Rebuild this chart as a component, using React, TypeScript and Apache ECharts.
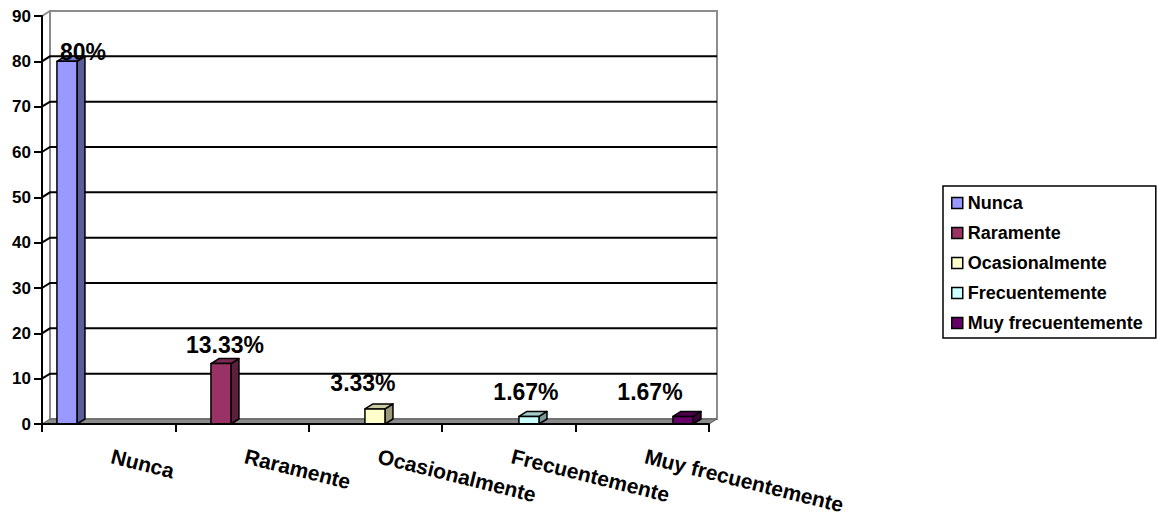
import React, { useEffect, useRef } from 'react';
import * as echarts from 'echarts';

const categories = ['Nunca', 'Raramente', 'Ocasionalmente', 'Frecuentemente', 'Muy frecuentemente'];
const values = [80, 13.33, 3.33, 1.67, 1.67];
const valueLabels = ['80%', '13.33%', '3.33%', '1.67%', '1.67%'];
const yTicks = [0, 10, 20, 30, 40, 50, 60, 70, 80, 90];

const faceColors = ['#9999FF', '#993366', '#FFFFCC', '#CCFFFF', '#660066'];
const sideColors = ['#5C5C99', '#5C1F3D', '#99997A', '#7A9999', '#3D003D'];
const topColors = ['#7A7ACC', '#7A2952', '#CCCCA3', '#A3CCCC', '#520052'];
const labelShift = [[16, -9], [4, -19], [-12, -26], [-3, -24], [-33, -24]];

const FONT = '"Liberation Sans", Arial, sans-serif';
const DX = 8;
const DY = -5;
const BAR_W = 0.13;

function wallRender(params: any, api: any) {
  const cs = params.coordSys;
  const x0 = cs.x;
  const x1 = cs.x + cs.width;
  const yMin = yTicks[0];
  const yMax = yTicks[yTicks.length - 1];
  const yBase = api.coord([0, yMin])[1];
  const yTop = api.coord([0, yMax])[1];
  const children: any[] = [];
  children.push({
    type: 'rect',
    shape: { x: x0 + DX, y: yTop + DY, width: cs.width, height: yBase - yTop },
    style: { fill: '#ffffff', stroke: '#8c8c8c', lineWidth: 2 },
  });
  children.push({
    type: 'line',
    shape: { x1: x0, y1: yTop, x2: x0 + DX, y2: yTop + DY },
    style: { stroke: '#8c8c8c', lineWidth: 2 },
  });
  yTicks.forEach((t) => {
    if (t === yMin || t === yMax) return;
    const y = api.coord([0, t])[1];
    children.push({
      type: 'polyline',
      shape: { points: [[x0, y], [x0 + DX, y + DY], [x1 + DX, y + DY]] },
      style: { stroke: '#000000', lineWidth: 2, fill: null },
    });
  });
  children.push({
    type: 'polygon',
    shape: { points: [[x0, yBase], [x0 + DX, yBase + DY], [x1 + DX, yBase + DY], [x1, yBase]] },
    style: { fill: '#8a8a8a', stroke: '#5a5a5a', lineWidth: 1 },
  });
  return { type: 'group', children };
}

function makeBarRender(i: number) {
  return (params: any, api: any) => {
    const c = api.coord([api.value(0), api.value(1)]);
    const b = api.coord([api.value(0), 0]);
    const w = api.size([BAR_W, 0])[0];
    const xl = c[0] - w / 2;
    const xr = c[0] + w / 2;
    const yt = c[1];
    const yb = b[1];
    const stroke = { stroke: '#000000', lineWidth: 1.5, lineJoin: 'round' };
    return {
      type: 'group',
      children: [
        {
          type: 'polygon',
          shape: { points: [[xr, yt], [xr + DX, yt + DY], [xr + DX, yb + DY], [xr, yb]] },
          style: { fill: sideColors[i], ...stroke },
        },
        {
          type: 'polygon',
          shape: { points: [[xl, yt], [xl + DX, yt + DY], [xr + DX, yt + DY], [xr, yt]] },
          style: { fill: topColors[i], ...stroke },
        },
        {
          type: 'rect',
          shape: { x: xl, y: yt, width: xr - xl, height: yb - yt },
          style: { fill: faceColors[i], ...stroke },
        },
        {
          type: 'text',
          x: c[0] + labelShift[i][0],
          y: yt + labelShift[i][1],
          style: {
            text: valueLabels[i],
            fontFamily: FONT,
            fontWeight: 'bold',
            fontSize: 23,
            fill: '#000000',
            align: 'center',
            verticalAlign: 'middle',
          },
        },
      ],
    };
  };
}

export default function App() {
  const ref = useRef<HTMLDivElement>(null);
  useEffect(() => {
    if (!ref.current) return;
    const chart = echarts.init(ref.current, undefined, { renderer: 'svg' });
    const barSeries = categories.map((name, i) => ({
      type: 'custom',
      name,
      xAxisIndex: 1,
      yAxisIndex: 0,
      z: 3,
      itemStyle: { color: faceColors[i] },
      data: [[i, values[i]]],
      renderItem: makeBarRender(i),
    }));
    chart.setOption({
      animation: false,
      backgroundColor: '#ffffff',
      grid: { left: 42, top: 16, width: 667, height: 408, containLabel: false, outerBoundsMode: 'none' },
      legend: {
        data: categories,
        orient: 'vertical',
        left: 943,
        top: 186,
        icon: 'rect',
        itemWidth: 11,
        itemHeight: 11,
        itemGap: 12,
        padding: [8, 13, 6, 8],
        borderColor: '#000000',
        borderWidth: 1.5,
        selectedMode: false,
        itemStyle: { borderColor: '#000000', borderWidth: 1.5 },
        textStyle: { fontFamily: FONT, fontWeight: 'bold', fontSize: 18, color: '#000000', lineHeight: 18 },
      },
      xAxis: [
        {
          type: 'category',
          data: categories,
          boundaryGap: true,
          z: 10,
          axisLine: { show: true, onZero: false, lineStyle: { color: '#000000', width: 2 } },
          axisTick: { show: true, length: 8, lineStyle: { color: '#000000', width: 2 } },
          axisLabel: {
            interval: 0,
            rotate: -14,
            margin: 31,
            padding: [0, 0, 0, 3],
            fontFamily: FONT,
            fontWeight: 'bold',
            fontSize: 21,
            color: '#000000',
          },
          splitLine: { show: false },
        },
        { type: 'value', min: -0.162, max: 4.169, show: false },
      ],
      yAxis: {
        type: 'value',
        min: 0,
        max: 90,
        interval: 10,
        z: 10,
        axisLine: { show: true, onZero: false, lineStyle: { color: '#000000', width: 2 } },
        axisTick: { show: true, length: 8, lineStyle: { color: '#000000', width: 2 } },
        axisLabel: { margin: 11, fontFamily: FONT, fontWeight: 'bold', fontSize: 17, color: '#000000' },
        splitLine: { show: false },
      },
      series: [
        {
          type: 'custom',
          name: 'wall',
          xAxisIndex: 1,
          yAxisIndex: 0,
          z: 1,
          silent: true,
          data: [[0, 0]],
          renderItem: wallRender,
        },
        ...barSeries,
      ],
    });
    return () => chart.dispose();
  }, []);
  return (
    <div
      ref={ref}
      style={{ position: 'fixed', left: 0, top: 0, width: 1158, height: 517, background: '#fff' }}
    />
  );
}
